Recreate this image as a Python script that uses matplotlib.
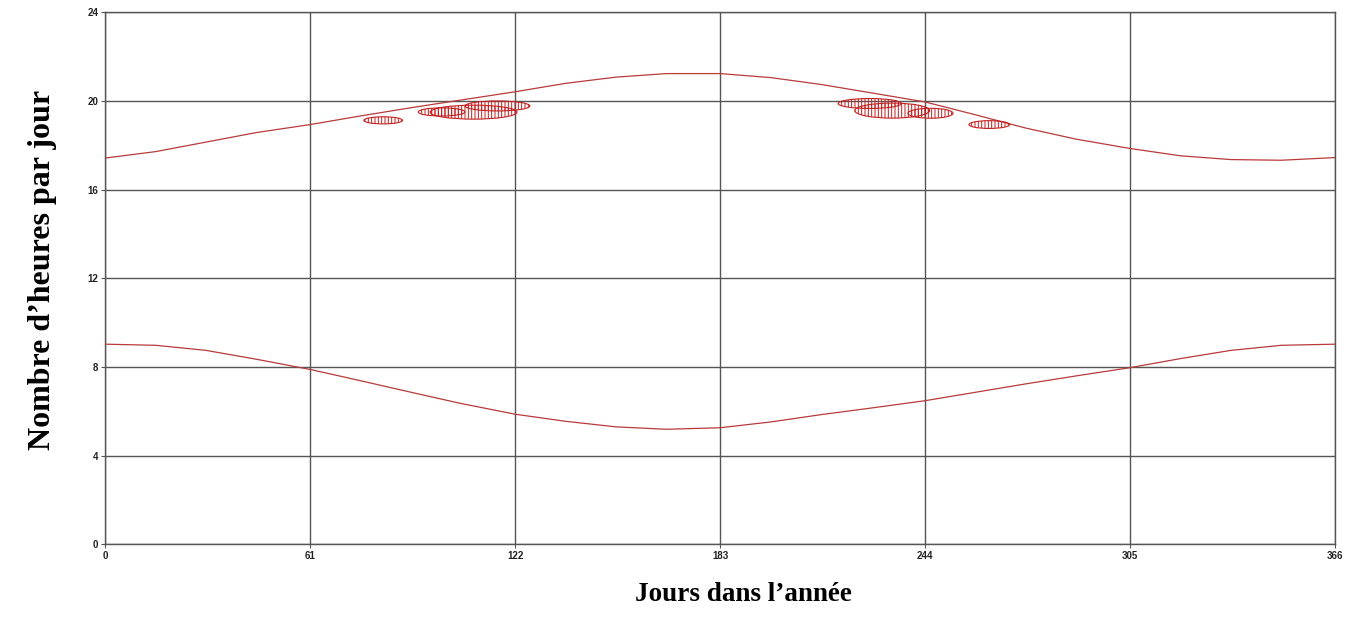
import matplotlib.pyplot as plt
from matplotlib.patches import Ellipse

# days of the year and hours
days = [0, 15, 30, 45, 61, 76, 91, 106, 122, 137, 152, 167, 183,
        198, 213, 228, 244, 259, 274, 289, 305, 320, 335, 350, 366]
upper_hours = [17.43, 17.72, 18.15, 18.58, 18.94, 19.33, 19.70, 20.05, 20.42,
               20.80, 21.08, 21.24, 21.24, 21.06, 20.75, 20.37, 19.96, 19.38,
               18.78, 18.28, 17.86, 17.53, 17.36, 17.33, 17.45]
lower_hours = [9.03, 8.98, 8.75, 8.35, 7.89, 7.38, 6.86, 6.35, 5.87, 5.55,
               5.30, 5.19, 5.26, 5.52, 5.85, 6.15, 6.48, 6.86, 7.24, 7.60,
               7.97, 8.38, 8.75, 8.98, 9.03]

# hatched ellipses: centre day, centre hour, width (days), height (hours)
ell_day = [82.7, 100.1, 109.6, 116.7, 227.5, 234.2, 245.6, 263.1]
ell_hour = [19.13, 19.51, 19.50, 19.78, 19.89, 19.57, 19.45, 18.94]
ell_width = [11.5, 13.9, 25.9, 19.3, 18.8, 22.3, 13.4, 12.1]
ell_height = [0.32, 0.37, 0.63, 0.45, 0.45, 0.68, 0.45, 0.35]

x_ticks = [0, 61, 122, 183, 244, 305, 366]
y_ticks = [0, 4, 8, 12, 16, 20, 24]

plt.rcParams['hatch.linewidth'] = 0.7

fig = plt.figure(figsize=(13.57, 6.21), dpi=100)
ax = fig.add_axes([0.0776, 0.1235, 0.9062, 0.8565])

curve_color = '#b83a3a'
ax.plot(days, upper_hours, color=curve_color, linewidth=0.9, zorder=3)
ax.plot(days, lower_hours, color=curve_color, linewidth=0.9, zorder=3)

for d, h, w, ht in zip(ell_day, ell_hour, ell_width, ell_height):
    e = Ellipse((d, h), w, ht, facecolor='none', edgecolor='#c42020',
                hatch='|||||', linewidth=0.8, zorder=4)
    ax.add_patch(e)

ax.set_xlim(0, 366)
ax.set_ylim(0, 24)
ax.set_xticks(x_ticks)
ax.set_yticks(y_ticks)
ax.grid(True, color='#555555', linewidth=1.0)
ax.set_axisbelow(True)
for s in ax.spines.values():
    s.set_color('#555555')
    s.set_linewidth(1.0)
ax.tick_params(length=3, color='#555555', labelsize=7, pad=2)
for lab in ax.get_xticklabels() + ax.get_yticklabels():
    lab.set_family('Liberation Sans')
    lab.set_fontweight('bold')
    lab.set_color('#222222')

ax.set_xlabel('Jours dans l\u2019année', family='Liberation Serif',
              fontweight='bold', fontsize=19.5)
ax.set_ylabel('Nombre d\u2019heures par jour', family='Liberation Serif',
              fontweight='bold', fontsize=23)
ax.xaxis.set_label_coords(0.519, -0.071)
ax.yaxis.set_label_coords(-0.039, 0.516)

fig.savefig('out.png', dpi=100)
